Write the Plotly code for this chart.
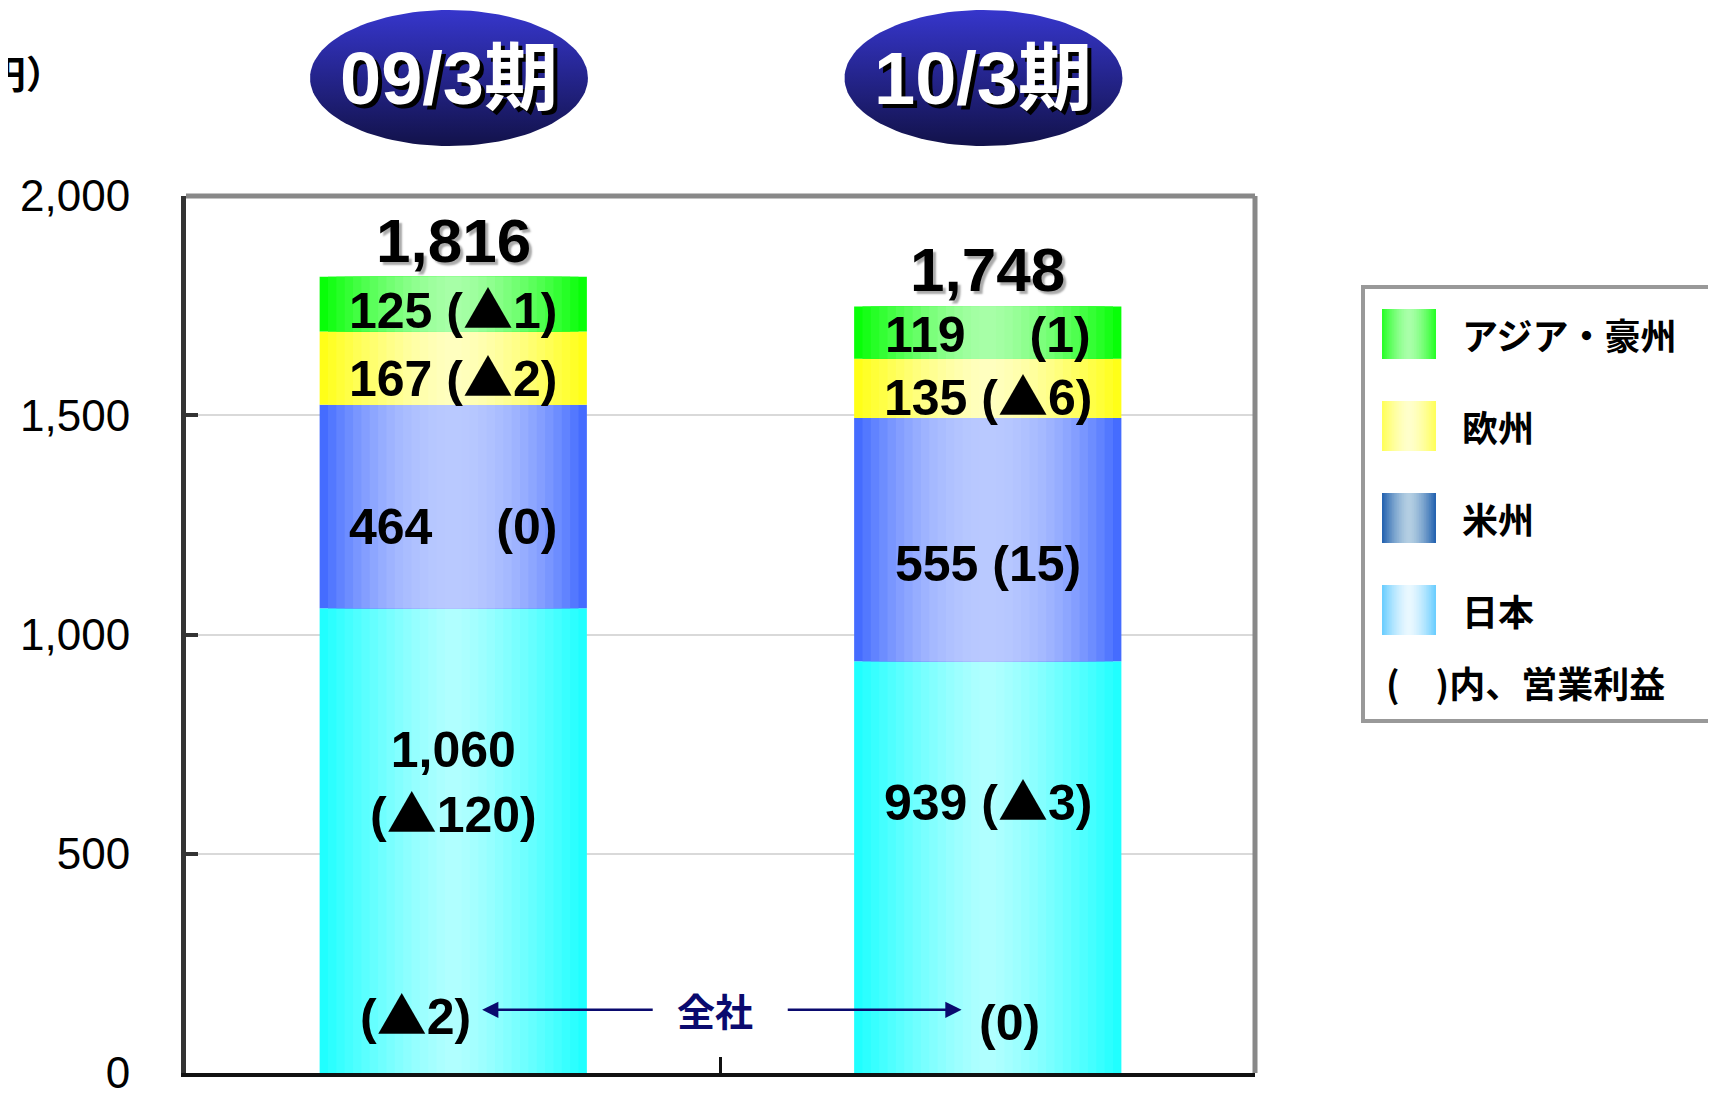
import math
import plotly.graph_objects as go

# 地域別売上高（億円）と営業利益
periods = ["09/3期", "10/3期"]
regions = ["日本", "米州", "欧州", "アジア・豪州"]
japan_sales = [1060, 939]
americas_sales = [464, 555]
europe_sales = [167, 135]
asia_sales = [125, 119]
japan_profit = [-120, -3]
americas_profit = [0, 15]
europe_profit = [-2, -6]
asia_profit = [-1, 1]
total_profit = [-2, 0]
yticks = [0, 500, 1000, 1500, 2000]

sales = [japan_sales, americas_sales, europe_sales, asia_sales]
profits = [japan_profit, americas_profit, europe_profit, asia_profit]
totals = [sum(v) for v in zip(*sales)]

# 色（端の色, 中央の色, 変化のカーブ）
bar_colors = [("#1affff", "#b2ffff", 1.3), ("#3d66ff", "#b9c9ff", 2.0),
              ("#ffff10", "#ffffc0", 1.5), ("#00ff00", "#a8ffa8", 1.5)]
swatch_colors = [("#66ccff", "#eaf8ff", 1.5), ("#1f5fae", "#b4cfe2", 1.5),
                 ("#ffff55", "#ffffcc", 1.5), ("#22ff22", "#aaffaa", 1.5)]
# ラベルの縦位置（セグメント内の割合, アンカー）
label_pos = [(0.76, "top"), (0.40, "middle"), (0.42, "middle"), (0.46, "middle")]

NUM_FONT = "Liberation Sans, Noto Sans CJK JP"
JP_FONT = "Noto Sans CJK JP"
TRI = '<span style="font-family:Noto Sans CJK JP">▲</span>'
STEPS = 16
BAR_W = 0.5

# 画面上の位置（ページ余白 8px 分をずらす）
OFF = 8
PL, PR, PT, PB = 186, 1255, 196, 1073
def X(px):
    return (px - PL) / (PR - PL)
def Y(py):
    return (PB - py) / (PB - OFF)

def blend(c1, c2, t):
    a = [int(c1[i:i + 2], 16) for i in (1, 3, 5)]
    b = [int(c2[i:i + 2], 16) for i in (1, 3, 5)]
    return "rgb(%d,%d,%d)" % tuple(round(a[i] + (b[i] - a[i]) * t) for i in range(3))

def fmt_profit(p, tri="▲"):
    return "(%s%d)" % (tri, -p) if p < 0 else "(%d)" % p

fig = go.Figure()

# 積み上げ棒（横方向グラデーションを入れ子の棒で表現）
base = [0] * len(periods)
annotations = []
for s, vals in enumerate(sales):
    edge, center, pw = bar_colors[s]
    for k in range(STEPS):
        d = 1 - k / STEPS
        t = (d - 0.5 / STEPS) ** pw
        fig.add_trace(go.Bar(
            x=periods, y=vals, base=base, width=BAR_W * d,
            marker=dict(color=blend(center, edge, t), line=dict(width=0)),
            name=regions[s], showlegend=False,
            hovertemplate="%{x}<br>" + regions[s] + ": %{y}<extra></extra>" if k == 0 else None,
            hoverinfo=None if k == 0 else "skip",
        ))
    frac, anchor = label_pos[s]
    for i, v in enumerate(vals):
        prof = fmt_profit(profits[s][i])
        pad = "\u2003" * (4 - len(prof))
        sep = " " + pad
        if len(format(v, ",")) + len(prof) > 8:
            sep = "<br>"
        txt = format(v, ",") + sep + fmt_profit(profits[s][i], TRI)
        annotations.append(dict(
            x=i, y=base[i] + v * frac, xref="x", yref="y", yanchor=anchor, text=txt,
            showarrow=False, font=dict(family=NUM_FONT, size=50, color="black", weight="bold"),
        ))
    base = [b + v for b, v in zip(base, vals)]

# 合計
for i, tot in enumerate(totals):
    annotations.append(dict(
        x=i, y=tot, xref="x", yref="y", yanchor="bottom", yshift=0, text=format(tot, ","),
        showarrow=False,
        font=dict(family=NUM_FONT, size=62, color="black", weight="bold", shadow="3px 3px 2px #aaa"),
    ))

# 全社の営業利益
annotations.append(dict(x=0.037, y=139, xref="x", yref="y", xanchor="right",
                        text=fmt_profit(total_profit[0], TRI), showarrow=False,
                        font=dict(family=NUM_FONT, size=50, color="black", weight="bold")))
annotations.append(dict(x=0.98, y=114, xref="x", yref="y", xanchor="left",
                        text=fmt_profit(total_profit[1], TRI), showarrow=False,
                        font=dict(family=NUM_FONT, size=50, color="black", weight="bold")))
annotations.append(dict(x=0.49, y=144, xref="x", yref="y", text="全社", showarrow=False,
                        font=dict(family=JP_FONT, size=38, color="#0a0a6e", weight="bold")))
for head, tail in [(0.054, 0.376), (0.951, 0.623)]:
    annotations.append(dict(x=head, y=144, ax=tail, ay=144, xref="x", yref="y",
                            axref="x", ayref="y", text="", showarrow=True,
                            arrowhead=2, arrowsize=1.3, arrowwidth=2.5, arrowcolor="#0a0a6e"))

# 期のラベル（楕円）
for i, p in enumerate(periods):
    th = [2 * math.pi * j / 120 for j in range(121)]
    cx = i - 0.008
    fig.add_trace(go.Scatter(
        x=[cx + 0.26 * math.cos(a) for a in th], y=[82 + 68 * math.sin(a) for a in th],
        xaxis="x2", yaxis="y2", mode="lines", line=dict(width=0, color="#2a2aa0"),
        fill="toself", fillgradient=dict(type="vertical", colorscale=[[0, "#12124a"], [1, "#3636cc"]]),
        hoverinfo="skip", showlegend=False,
    ))
    annotations.append(dict(
        x=cx, y=82, xref="x2", yref="y2", text=p, showarrow=False,
        font=dict(family=NUM_FONT, size=74, color="white", weight="bold", shadow="4px 4px 0px black"),
    ))

# 単位
annotations.append(dict(x=X(66), y=Y(72), xref="paper", yref="paper", xanchor="right",
                        yanchor="middle", text="（億円）", showarrow=False,
                        font=dict(family=JP_FONT, size=38, color="black", weight="bold")))

# 凡例（手書き）
shapes = [
    dict(type="line", xref="paper", yref="paper", x0=0, x1=1, y0=Y(PT), y1=Y(PT),
         line=dict(color="#888", width=5)),
    dict(type="line", xref="paper", yref="paper", x0=1, x1=1, y0=0, y1=Y(PT),
         line=dict(color="#888", width=5)),
    dict(type="rect", xref="paper", yref="paper", x0=X(1363), x1=X(1713), y0=Y(721), y1=Y(287),
         line=dict(color="#999", width=4), fillcolor="white"),
]
for n, s in enumerate(reversed(range(len(regions)))):
    edge, center, pw = swatch_colors[s]
    top = 309 + n * 92
    cx, hw = 1409, 27
    for k in range(STEPS):
        d = 1 - k / STEPS
        t = (d - 0.5 / STEPS) ** pw
        shapes.append(dict(type="rect", xref="paper", yref="paper",
                           x0=X(cx - hw * d), x1=X(cx + hw * d), y0=Y(top + 50), y1=Y(top),
                           line=dict(width=0), fillcolor=blend(center, edge, t)))
    annotations.append(dict(x=X(1460), y=Y(top + 25), xref="paper", yref="paper",
                            xanchor="left", yanchor="middle", text=regions[s], showarrow=False,
                            font=dict(family=JP_FONT, size=36, color="black", weight="bold")))
annotations.append(dict(x=X(1384), y=Y(682), xref="paper", yref="paper", xanchor="left",
                        yanchor="middle", text="(　)内、営業利益", showarrow=False,
                        font=dict(family=JP_FONT, size=36, color="black", weight="bold")))

fig.update_layout(
    width=1716, height=1093,
    margin=dict(l=PL - OFF, r=1716 - (PR - OFF), t=0, b=1093 - (PB - OFF)),
    paper_bgcolor="white", plot_bgcolor="white",
    barmode="overlay", showlegend=False,
    xaxis=dict(type="category", range=[-0.5, 1.5], showticklabels=False, showgrid=False,
               showline=True, linecolor="#111", linewidth=4, automargin=False,
               ticks="inside", tickson="boundaries", ticklen=16, tickwidth=3, tickcolor="#111"),
    yaxis=dict(range=[0, 2000], domain=[0, Y(PT)], tickvals=yticks, tickformat=",",
               showgrid=True, gridcolor="#d9d9d9", gridwidth=2, zeroline=False,
               showline=True, linecolor="#333", linewidth=5, automargin=False,
               ticks="inside", ticklen=12, tickwidth=4, tickcolor="#333",
               ticklabelstandoff=42,
               tickfont=dict(family=NUM_FONT, size=44, color="black")),
    xaxis2=dict(domain=[0, 1], range=[-0.5, 1.5], anchor="y2", visible=False, automargin=False),
    yaxis2=dict(domain=[Y(160), 1], range=[0, 160 - OFF], anchor="x2", visible=False,
                automargin=False),
    annotations=annotations,
    shapes=shapes,
)

fig.write_html("out.html")
